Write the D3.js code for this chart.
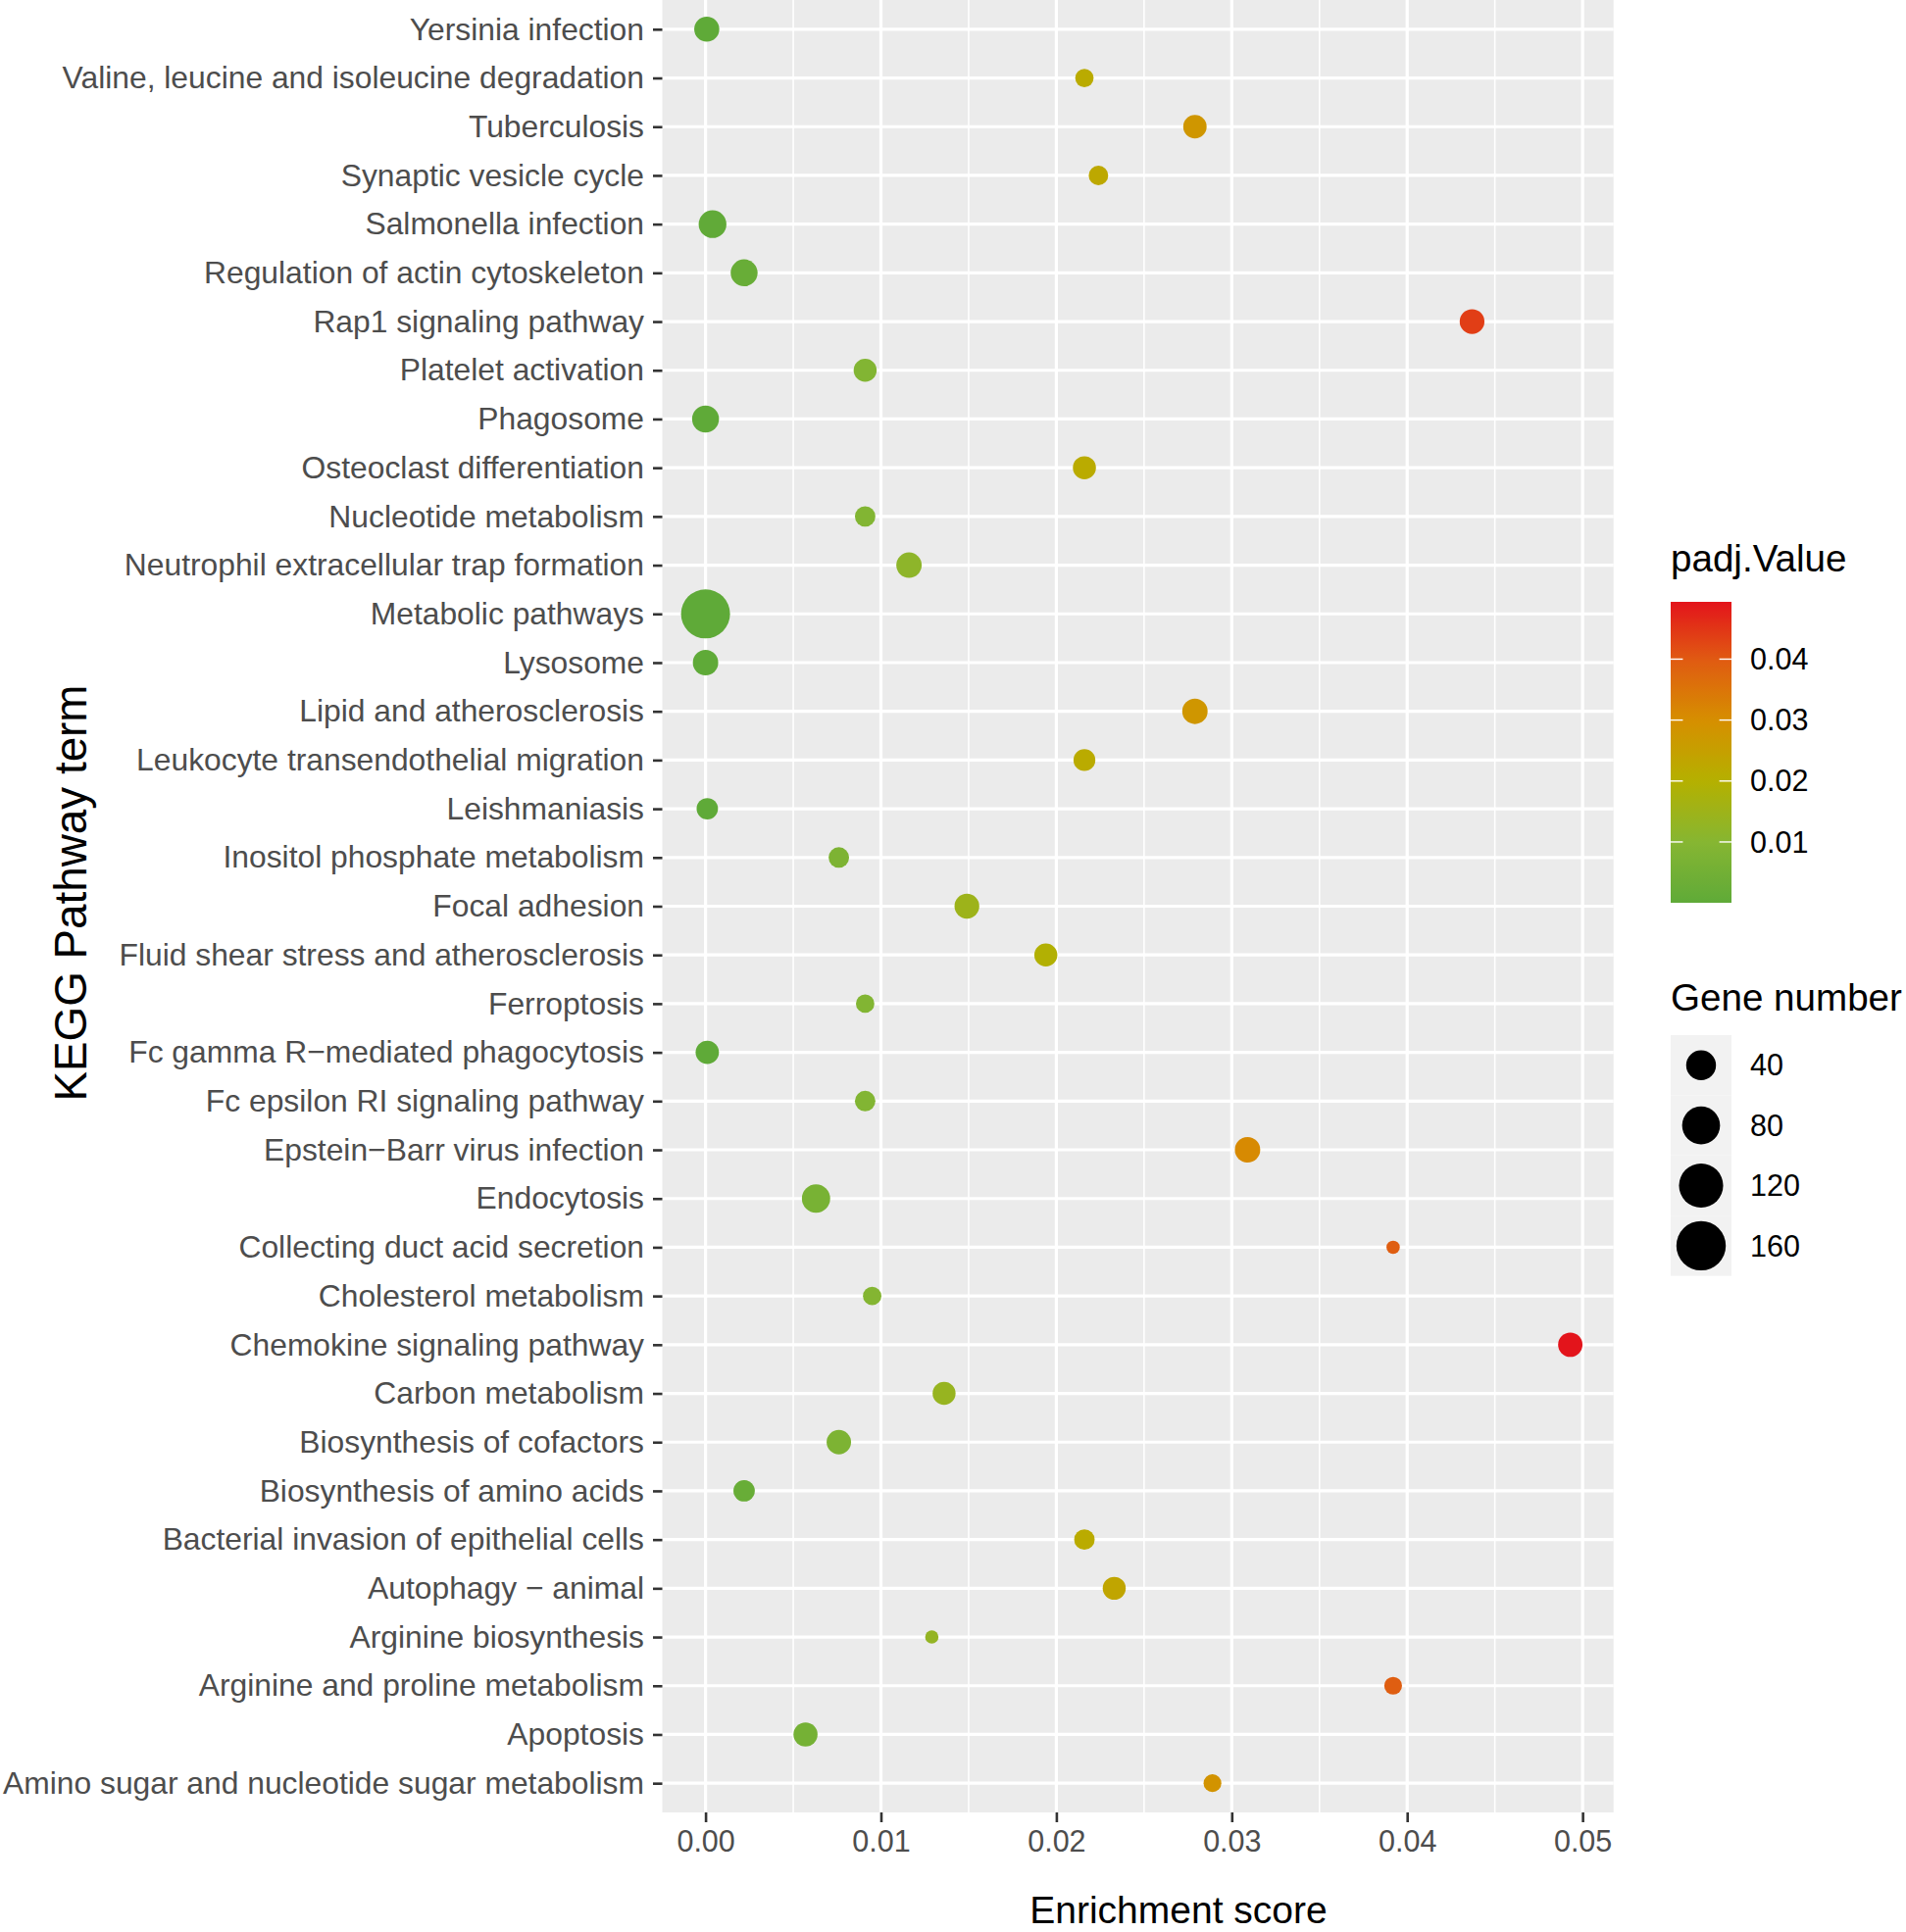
<!DOCTYPE html>
<html>
<head>
<meta charset="utf-8">
<script src="https://cdn.jsdelivr.net/npm/d3@7"></script>
<style>
  html, body { margin: 0; padding: 0; background: #ffffff; }
  svg { display: block; font-family: "Liberation Sans", Arial, Helvetica, sans-serif; }
</style>
</head>
<body>
<svg id="chart" width="1944" height="1971"></svg>
<script>
// ---------------- data (top row first, as drawn) ----------------
const categories = [
  "Yersinia infection",
  "Valine, leucine and isoleucine degradation",
  "Tuberculosis",
  "Synaptic vesicle cycle",
  "Salmonella infection",
  "Regulation of actin cytoskeleton",
  "Rap1 signaling pathway",
  "Platelet activation",
  "Phagosome",
  "Osteoclast differentiation",
  "Nucleotide metabolism",
  "Neutrophil extracellular trap formation",
  "Metabolic pathways",
  "Lysosome",
  "Lipid and atherosclerosis",
  "Leukocyte transendothelial migration",
  "Leishmaniasis",
  "Inositol phosphate metabolism",
  "Focal adhesion",
  "Fluid shear stress and atherosclerosis",
  "Ferroptosis",
  "Fc gamma R\u2212mediated phagocytosis",
  "Fc epsilon RI signaling pathway",
  "Epstein\u2212Barr virus infection",
  "Endocytosis",
  "Collecting duct acid secretion",
  "Cholesterol metabolism",
  "Chemokine signaling pathway",
  "Carbon metabolism",
  "Biosynthesis of cofactors",
  "Biosynthesis of amino acids",
  "Bacterial invasion of epithelial cells",
  "Autophagy \u2212 animal",
  "Arginine biosynthesis",
  "Arginine and proline metabolism",
  "Apoptosis",
  "Amino sugar and nucleotide sugar metabolism"
];
const enrichmentScore = [
  0.00007, 0.0216, 0.0279, 0.0224, 0.0004, 0.0022, 0.0437, 0.0091, 0.0000, 0.0216,
  0.0091, 0.0116, 0.0000, 0.0000, 0.0279, 0.0216, 0.0001, 0.0076, 0.0149, 0.0194,
  0.0091, 0.0001, 0.0091, 0.0309, 0.0063, 0.0392, 0.0095, 0.0493, 0.0136, 0.0076,
  0.0022, 0.0216, 0.0233, 0.0129, 0.0392, 0.0057, 0.0289
];
const padjValue = [
  0.00007, 0.0216, 0.0279, 0.0224, 0.0004, 0.0022, 0.0437, 0.0091, 0.00002, 0.0216,
  0.0091, 0.0116, 0.00002, 0.00002, 0.0279, 0.0216, 0.0001, 0.0076, 0.0149, 0.0194,
  0.0091, 0.0001, 0.0091, 0.0309, 0.0063, 0.0392, 0.0095, 0.0494, 0.0136, 0.0076,
  0.0022, 0.0216, 0.0233, 0.0129, 0.0392, 0.0057, 0.0289
];
const geneNumber = [
  23, 7, 18, 9, 32, 29, 22, 17, 29, 17,
  11, 24, 157, 24, 24, 14, 13, 11, 22, 17,
  7, 18, 11, 24, 34, 1, 7, 21, 17, 21,
  13, 11, 17, 1, 6, 20, 6
];
const xTicks = [0, 0.01, 0.02, 0.03, 0.04, 0.05];
const xMinorTicks = [0.005, 0.015, 0.025, 0.035, 0.045];
const padjTicks = [0.01, 0.02, 0.03, 0.04];
const sizeBreaks = [40, 80, 120, 160];
const colourStops = [0, 0.01, 0.02, 0.03, 0.04, 0.0494];
const colourRange = ["#5FAA38", "#86B632", "#B5B000", "#D68F00", "#E05A12", "#E3141B"];

// ---------------- layout ----------------
const svg = d3.select("#chart");
const panel = { left: 675.5, right: 1645.7, top: 0, bottom: 1849 };
const FONT_YTEXT = 31.8, FONT_XTEXT = 30.5, FONT_XTITLE = 39, FONT_YTITLE = 45.8, FONT_LEGTITLE = 38.6, FONT_LEG = 30.5;

const data = categories.map((c, i) => ({
  term: c, x: enrichmentScore[i], p: padjValue[i], n: geneNumber[i]
}));

const xExt = d3.extent(enrichmentScore);
const xPad = (xExt[1] - xExt[0]) * 0.05;
const x = d3.scaleLinear().domain([xExt[0] - xPad, xExt[1] + xPad]).range([panel.left, panel.right]);
const y = d3.scalePoint().domain(categories).range([panel.top, panel.bottom]).padding(0.6);
const colour = d3.scaleLinear().domain(colourStops).range(colourRange).interpolate(d3.interpolateRgb).clamp(true);
const radius = d3.scalePow().exponent(0.5).domain([1, 160]).range([6.8, 25.2]);

// panel background
svg.append("rect")
  .attr("x", panel.left).attr("y", panel.top)
  .attr("width", panel.right - panel.left).attr("height", panel.bottom - panel.top)
  .attr("fill", "#EBEBEB");

// grid
const grid = svg.append("g");
grid.selectAll("line.minor").data(xMinorTicks).join("line")
  .attr("x1", d => x(d)).attr("x2", d => x(d))
  .attr("y1", panel.top).attr("y2", panel.bottom)
  .attr("stroke", "#ffffff").attr("stroke-width", 1.6);
grid.selectAll("line.majx").data(xTicks).join("line")
  .attr("x1", d => x(d)).attr("x2", d => x(d))
  .attr("y1", panel.top).attr("y2", panel.bottom)
  .attr("stroke", "#ffffff").attr("stroke-width", 3.2);
grid.selectAll("line.majy").data(categories).join("line")
  .attr("x1", panel.left).attr("x2", panel.right)
  .attr("y1", d => y(d)).attr("y2", d => y(d))
  .attr("stroke", "#ffffff").attr("stroke-width", 3.2);

// points
svg.append("g").selectAll("circle").data(data).join("circle")
  .attr("cx", d => x(d.x)).attr("cy", d => y(d.term))
  .attr("r", d => radius(d.n))
  .attr("fill", d => colour(d.p));

// y axis
const yAxis = d3.axisLeft(y).tickSize(9.5).tickPadding(9);
const gy = svg.append("g").attr("transform", `translate(${panel.left},0)`).call(yAxis);
gy.select(".domain").remove();
gy.selectAll(".tick line").attr("stroke", "#333333").attr("stroke-width", 2.6);
gy.selectAll(".tick text").attr("fill", "#4D4D4D").style("font-size", FONT_YTEXT + "px")
  .attr("font-family", "Liberation Sans, Arial, sans-serif");

// x axis
const xAxis = d3.axisBottom(x).tickValues(xTicks).tickFormat(d3.format(".2f")).tickSize(10).tickPadding(8);
const gx = svg.append("g").attr("transform", `translate(0,${panel.bottom})`).call(xAxis);
gx.select(".domain").remove();
gx.selectAll(".tick line").attr("stroke", "#333333").attr("stroke-width", 2.6);
gx.selectAll(".tick text").attr("fill", "#4D4D4D").style("font-size", FONT_XTEXT + "px")
  .attr("font-family", "Liberation Sans, Arial, sans-serif");

// axis titles
svg.append("text").text("Enrichment score")
  .attr("x", 1202).attr("y", 1962)
  .attr("text-anchor", "middle").attr("fill", "#000")
  .style("font-size", FONT_XTITLE + "px");
svg.append("text").text("KEGG Pathway term")
  .attr("transform", `translate(88,911) rotate(-90)`)
  .attr("text-anchor", "middle").attr("fill", "#000")
  .style("font-size", FONT_YTITLE + "px");

// ---------------- colour legend ----------------
const legX = 1704, barW = 62, barTop = 614, barBottom = 921;
svg.append("text").text("padj.Value")
  .attr("x", legX).attr("y", 583).attr("fill", "#000").style("font-size", FONT_LEGTITLE + "px");

const pExt = d3.extent(padjValue);
const barScale = d3.scaleLinear().domain(pExt).range([barBottom, barTop]);
const defs = svg.append("defs");
const grad = defs.append("linearGradient").attr("id", "padjGrad")
  .attr("x1", 0).attr("y1", 1).attr("x2", 0).attr("y2", 0);
d3.range(0, 41).forEach(i => {
  const t = i / 40;
  const v = pExt[0] + t * (pExt[1] - pExt[0]);
  grad.append("stop").attr("offset", t).attr("stop-color", colour(v));
});
svg.append("rect").attr("x", legX).attr("y", barTop)
  .attr("width", barW).attr("height", barBottom - barTop)
  .attr("fill", "url(#padjGrad)");
const cbTicks = svg.append("g");
cbTicks.selectAll("line.l").data(padjTicks).join("line")
  .attr("x1", legX).attr("x2", legX + barW / 5)
  .attr("y1", d => barScale(d)).attr("y2", d => barScale(d))
  .attr("stroke", "#ffffff").attr("stroke-width", 1.4);
cbTicks.selectAll("line.r").data(padjTicks).join("line")
  .attr("x1", legX + barW * 4 / 5).attr("x2", legX + barW)
  .attr("y1", d => barScale(d)).attr("y2", d => barScale(d))
  .attr("stroke", "#ffffff").attr("stroke-width", 1.4);
cbTicks.selectAll("text").data(padjTicks).join("text")
  .text(d => d3.format(".2f")(d))
  .attr("x", 1785).attr("y", d => barScale(d)).attr("dy", "0.35em")
  .attr("fill", "#000").style("font-size", FONT_LEG + "px");

// ---------------- size legend ----------------
svg.append("text").text("Gene number")
  .attr("x", legX).attr("y", 1031).attr("fill", "#000").style("font-size", FONT_LEGTITLE + "px");
const keyTop = 1056, keyH = 61.4;
const keyY = d3.scaleBand().domain(sizeBreaks).range([keyTop, keyTop + keyH * sizeBreaks.length]);
const sizeLeg = svg.append("g");
sizeLeg.selectAll("rect").data(sizeBreaks).join("rect")
  .attr("x", legX).attr("y", d => keyY(d)).attr("width", barW).attr("height", keyY.bandwidth())
  .attr("fill", "#F2F2F2");
sizeLeg.selectAll("circle").data(sizeBreaks).join("circle")
  .attr("cx", legX + barW / 2).attr("cy", d => keyY(d) + keyY.bandwidth() / 2)
  .attr("r", d => radius(d)).attr("fill", "#000");
sizeLeg.selectAll("text").data(sizeBreaks).join("text")
  .text(d => d)
  .attr("x", 1785).attr("y", d => keyY(d) + keyY.bandwidth() / 2).attr("dy", "0.35em")
  .attr("fill", "#000").style("font-size", FONT_LEG + "px");
</script>
</body>
</html>
